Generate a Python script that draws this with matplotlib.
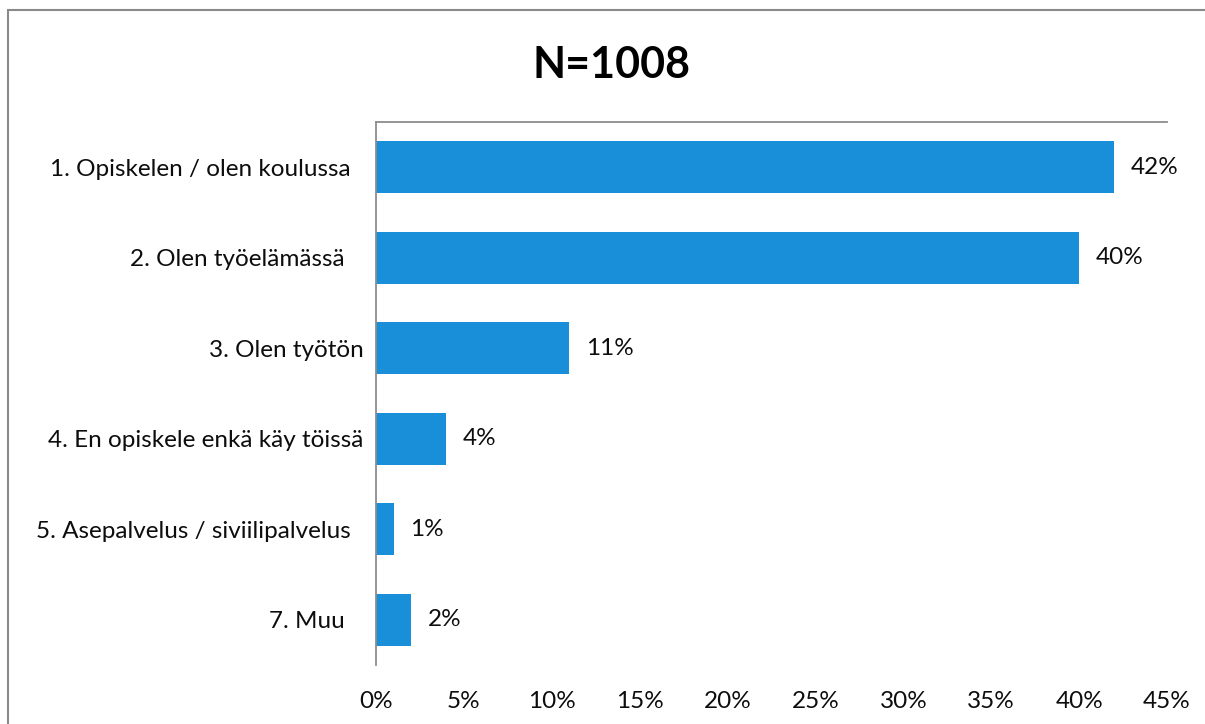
import matplotlib
matplotlib.use("Agg")
import matplotlib.pyplot as plt
from matplotlib.patches import Rectangle

categories = [
    "1. Opiskelen / olen koulussa  ",
    "2. Olen työelämässä   ",
    "3. Olen työtön",
    "4. En opiskele enkä käy töissä",
    "5. Asepalvelus / siviilipalvelus  ",
    "7. Muu   ",
]
values = [42, 40, 11, 4, 1, 2]
xticks = [0, 5, 10, 15, 20, 25, 30, 35, 40, 45]
title = "N=1008"

plt.rcParams['font.family'] = ['Lato', 'DejaVu Sans']

fig = plt.figure(figsize=(12.05, 7.24), dpi=100)
ax = fig.add_axes([376/1205, 1-665/724, (1167-376)/1205, (665-122)/724])

bar_color = '#1a8fd9'
ypos = list(range(len(categories)))
ax.barh(ypos, values, height=0.57, color=bar_color)
ax.set_ylim(len(categories)-0.5, -0.5)
ax.set_xlim(0, 45)

fs = 17.5
ax.set_yticks(ypos)
ax.set_yticklabels(categories, fontsize=fs, color='#0d0d0d')
ax.set_xticks(xticks)
ax.set_xticklabels([f"{t}%" for t in xticks], fontsize=fs, color='#0d0d0d')
ax.tick_params(axis='y', length=0, pad=9)
ax.tick_params(axis='x', length=0, pad=19)

for s in ['right', 'bottom']:
    ax.spines[s].set_visible(False)
for s in ['left', 'top']:
    ax.spines[s].set_color('#8c8c8c')
    ax.spines[s].set_linewidth(1.3)

for y, v in zip(ypos, values):
    ax.annotate(f"{v}%", xy=(v, y), xytext=(12, 0), textcoords='offset points',
                ha='left', va='center', fontsize=fs, color='#0d0d0d')

fig.text(612/1205, 1-65/724, title, ha='center', va='center', fontsize=31,
         fontweight='bold', color='#000000')

fig.patches.append(Rectangle((8/1205, -0.05), 1.1, 1.05-10/724,
                             transform=fig.transFigure, fill=False,
                             edgecolor='#8a8a8a', linewidth=1.5))

fig.savefig("out.png", dpi=100, facecolor='white')
